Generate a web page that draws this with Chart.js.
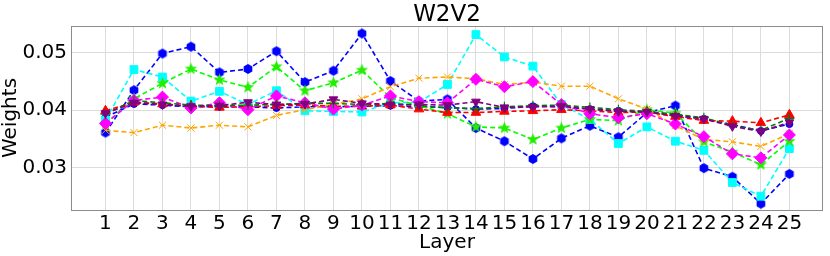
<!DOCTYPE html>
<html>
<head>
<meta charset="utf-8">
<script src="https://cdn.jsdelivr.net/npm/chart.js@4.4.1/dist/chart.umd.min.js"></script>
<style>
html,body{margin:0;padding:0;background:#fff;}
#wrap{width:830px;height:256px;position:relative;}
</style>
</head>
<body>
<div id="wrap"><canvas id="c" width="830" height="256"></canvas></div>
<script>
const TITLE = 'W2V2';
const X_LABEL = 'Layer';
const Y_LABEL = 'Weights';
const layers = [1,2,3,4,5,6,7,8,9,10,11,12,13,14,15,16,17,18,19,20,21,22,23,24,25];
const yTicks = [0.03, 0.04, 0.05];

const blueHex = [0.0361,0.0435,0.0499,0.0511,0.0466,0.0472,0.0503,0.0449,0.0469,0.0534,0.0451,0.0416,0.0419,0.0369,0.0346,0.0315,0.0351,0.0373,0.0353,0.0396,0.0408,0.0299,0.0284,0.0237,0.0289];
const cyanSq = [0.0383,0.0471,0.0458,0.0416,0.0433,0.0410,0.0434,0.0399,0.0398,0.0397,0.0413,0.0414,0.0445,0.0532,0.0493,0.0477,0.0410,0.0384,0.0342,0.0371,0.0346,0.0330,0.0274,0.0250,0.0333];
const limeStar = [0.0376,0.0420,0.0447,0.0472,0.0453,0.0440,0.0476,0.0434,0.0448,0.0470,0.0422,0.0408,0.0394,0.0371,0.0369,0.0349,0.0369,0.0384,0.0382,0.0401,0.0395,0.0345,0.0327,0.0305,0.0346];
const orangeX = [0.0365,0.0361,0.0374,0.0369,0.0374,0.0371,0.0391,0.0401,0.0410,0.0420,0.0441,0.0456,0.0458,0.0455,0.0445,0.0449,0.0442,0.0442,0.0420,0.0402,0.0373,0.0349,0.0345,0.0337,0.0359];
const redTri = [0.0399,0.0414,0.0411,0.0407,0.0405,0.0406,0.0408,0.0409,0.0407,0.0407,0.0409,0.0402,0.0396,0.0396,0.0398,0.0399,0.0401,0.0399,0.0396,0.0397,0.0389,0.0382,0.0381,0.0378,0.0392];
const magentaDia = [0.0377,0.0417,0.0423,0.0404,0.0413,0.0401,0.0425,0.0413,0.0402,0.0409,0.0425,0.0415,0.0413,0.0454,0.0441,0.0450,0.0410,0.0394,0.0387,0.0394,0.0376,0.0354,0.0324,0.0317,0.0357];
const purpleTri = [0.0395,0.0413,0.0410,0.0407,0.0408,0.0414,0.0410,0.0411,0.0419,0.0412,0.0410,0.0410,0.0409,0.0415,0.0405,0.0406,0.0407,0.0402,0.0398,0.0397,0.0390,0.0385,0.0372,0.0363,0.0379];
const greenPlus = [0.0393,0.0417,0.0413,0.0409,0.0408,0.0409,0.0410,0.0412,0.0412,0.0410,0.0412,0.0408,0.0404,0.0403,0.0406,0.0408,0.0409,0.0405,0.0401,0.0398,0.0393,0.0387,0.0373,0.0365,0.0386];
const blueDot = [0.0388,0.0411,0.0409,0.0406,0.0406,0.0406,0.0404,0.0406,0.0406,0.0407,0.0408,0.0406,0.0405,0.0402,0.0403,0.0407,0.0406,0.0402,0.0399,0.0397,0.0392,0.0385,0.0375,0.0364,0.0376];

function makeMarker(kind, color, r) {
  const s = Math.ceil(r * 2 + 4);
  const cv = document.createElement('canvas');
  cv.width = s; cv.height = s;
  const g = cv.getContext('2d');
  const c = s / 2;
  g.fillStyle = color;
  g.beginPath();
  if (kind === 'hex') {
    for (let i = 0; i < 6; i++) {
      const a = Math.PI / 2 + i * Math.PI / 3;
      const px = c + r * Math.cos(a), py = c - r * Math.sin(a);
      i ? g.lineTo(px, py) : g.moveTo(px, py);
    }
  } else if (kind === 'star') {
    for (let i = 0; i < 10; i++) {
      const rr = i % 2 ? r * 0.42 : r;
      const a = Math.PI / 2 + i * Math.PI / 5;
      const px = c + rr * Math.cos(a), py = c - rr * Math.sin(a);
      i ? g.lineTo(px, py) : g.moveTo(px, py);
    }
  }
  g.closePath();
  g.fill();
  return cv;
}

const dash = [5, 3];
function ds(label, values, color, extra) {
  return Object.assign({
    label: label,
    data: layers.map((l, i) => ({x: l, y: values[i]})),
    borderColor: color,
    backgroundColor: color,
    pointBackgroundColor: color,
    pointBorderColor: color,
    borderWidth: 1.6,
    borderDash: dash,
    pointRadius: 4.5,
    pointBorderWidth: 1,
    tension: 0,
    fill: false
  }, extra || {});
}

const series = [
  ds('blueHex', blueHex, '#0000ff', {pointStyle: makeMarker('hex', '#0000ff', 5)}),
  ds('blueDot', blueDot, '#0000ff', {pointStyle: 'circle', pointRadius: 3.5}),
  ds('cyanSq', cyanSq, '#00ffff', {pointStyle: 'rect', pointRadius: 5.5}),
  ds('limeStar', limeStar, '#00ff00', {pointStyle: makeMarker('star', '#22ee00', 6.5)}),
  ds('orangeX', orangeX, '#ffa500', {pointStyle: 'crossRot', pointRadius: 5, pointBorderWidth: 1}),
  ds('redTri', redTri, '#ff0000', {pointStyle: 'triangle', pointRadius: 5.5}),
  ds('magentaDia', magentaDia, '#ff00ff', {pointStyle: 'rectRot', pointRadius: 6}),
  ds('greenPlus', greenPlus, '#008000', {pointStyle: 'cross', pointRadius: 5, pointBorderWidth: 1.2}),
  ds('purpleTri', purpleTri, '#800080', {pointStyle: 'triangle', rotation: 180, pointRadius: 5})
];
series.forEach((d, i) => { d.order = series.length - i; });

const frame = {
  id: 'frame',
  afterDraw(chart) {
    const {ctx, chartArea: a} = chart;
    ctx.save();
    ctx.strokeStyle = '#8c8c8c';
    ctx.lineWidth = 1;
    ctx.strokeRect(Math.round(a.left) + 0.5, Math.round(a.top) + 0.5, Math.round(a.right - a.left) - 1, Math.round(a.bottom - a.top));
    ctx.fillStyle = '#000';
    ctx.font = '23px "DejaVu Sans"';
    ctx.textAlign = 'center';
    ctx.textBaseline = 'alphabetic';
    ctx.fillText(TITLE, (a.left + a.right) / 2, 21);
    ctx.restore();
  }
};

new Chart(document.getElementById('c'), {
  type: 'line',
  data: { datasets: series },
  plugins: [frame],
  options: {
    responsive: false,
    animation: false,
    devicePixelRatio: 1,
    layout: { padding: { top: 26, right: 3, left: 0, bottom: 0 } },
    plugins: { legend: { display: false }, tooltip: { enabled: false }, title: { display: false } },
    scales: {
      x: {
        type: 'linear',
        min: -0.21,
        max: 26.18,
        afterBuildTicks: s => { s.ticks = layers.map(v => ({value: v})); },
        afterFit: s => { s.height = 46; },
        grid: { color: '#dcdcdc', lineWidth: 1, drawTicks: false },
        border: { display: false },
        ticks: { color: '#000', font: { family: 'DejaVu Sans', size: 20 }, padding: 2, autoSkip: false, maxRotation: 0, callback: v => String(v) },
        title: { display: true, text: X_LABEL, color: '#000', font: { family: 'DejaVu Sans', size: 20, lineHeight: 1.2 }, padding: { top: 0, bottom: 1 } }
      },
      y: {
        type: 'linear',
        min: 0.0226,
        max: 0.0547,
        afterBuildTicks: s => { s.ticks = yTicks.map(v => ({value: v})); },
        afterFit: s => { s.width = 71; },
        grid: { color: '#dcdcdc', lineWidth: 1, drawTicks: false },
        border: { display: false },
        ticks: { color: '#000', font: { family: 'DejaVu Sans', size: 20 }, padding: 4, callback: v => v.toFixed(2) },
        title: { display: true, text: Y_LABEL, color: '#000', font: { family: 'DejaVu Sans', size: 20, lineHeight: 1.1 }, padding: { top: 0, bottom: 0 } }
      }
    }
  }
});
</script>
</body>
</html>
